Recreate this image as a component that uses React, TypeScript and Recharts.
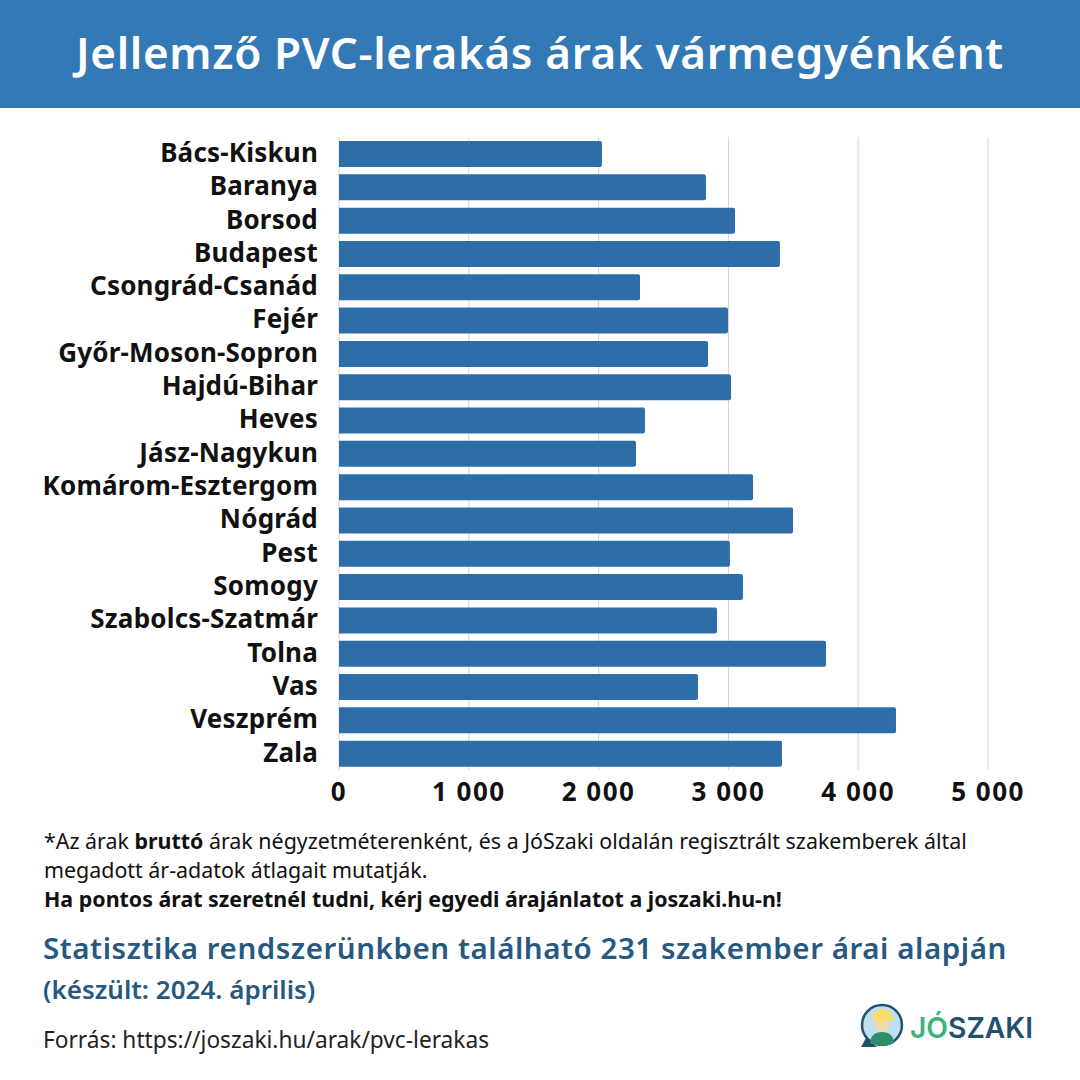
import React from "react";
import { BarChart, Bar, XAxis, YAxis, CartesianGrid } from "recharts";

const counties = [
  "Bács-Kiskun",
  "Baranya",
  "Borsod",
  "Budapest",
  "Csongrád-Csanád",
  "Fejér",
  "Győr-Moson-Sopron",
  "Hajdú-Bihar",
  "Heves",
  "Jász-Nagykun",
  "Komárom-Esztergom",
  "Nógrád",
  "Pest",
  "Somogy",
  "Szabolcs-Szatmár",
  "Tolna",
  "Vas",
  "Veszprém",
  "Zala",
];
const prices = [
  2026, 2827, 3051, 3397, 2319, 2997, 2843, 3020, 2357, 2288, 3190, 3498, 3012,
  3112, 2912, 3752, 2766, 4291, 3413,
];
const priceTicks = [0, 1000, 2000, 3000, 4000, 5000];

const chartData = counties.map((name, i) => ({ name, price: prices[i] }));

const font = '"Noto Sans", sans-serif';
const formatPrice = (v: number) => String(v).replace(/\B(?=(\d{3})+$)/g, " ");

function Logo() {
  return (
    <svg width={190} height={52} style={{ position: "absolute", left: 855, top: 1002 }}>
      <circle cx={27} cy={23} r={20} fill="#bfe0ee" stroke="#24506f" strokeWidth={2.5} />
      <path d="M6 45 L22 45 L11 36 Z" fill="#24506f" />
      <path d="M15 41 Q16 30 27 30 Q38 30 39 41 Q33 44 27 44 Q20 44 15 41 Z" fill="#2f8f6b" />
      <circle cx={27} cy={23} r={7} fill="#f3d9a4" />
      <path d="M17 19 Q18 7 28 7 Q38 8 38 19 Z" fill="#f5df6a" />
      <text x={55} y={36} fontFamily="Inter, sans-serif" fontWeight={600} fontSize={29} textLength={123} lengthAdjust="spacingAndGlyphs">
        <tspan fill="#3cb37a">JÓ</tspan>
        <tspan fill="#24506f">SZAKI</tspan>
      </text>
    </svg>
  );
}

export default function App() {
  return (
    <div style={{ position: "absolute", left: 0, top: 0, width: 1080, height: 1080, background: "#fff", fontFamily: font, overflow: "hidden" }}>
      <div style={{ height: 108, background: "#3279b6", color: "#fff", fontSize: 44, fontWeight: 600, lineHeight: "104px", textAlign: "center", whiteSpace: "nowrap", letterSpacing: 0.65 }}>
        Jellemző PVC-lerakás árak vármegyénként
      </div>
      <div style={{ position: "absolute", left: 0, top: 0 }}>
        <BarChart
          width={1080}
          height={822}
          layout="vertical"
          data={chartData}
          margin={{ top: 137, right: 92, bottom: 0, left: 0 }}
        >
          <CartesianGrid horizontal={false} stroke="#d4d4d4" strokeWidth={1} />
          <XAxis
            type="number"
            domain={[0, 5000]}
            ticks={priceTicks}
            tickFormatter={formatPrice}
            height={52}
            axisLine={false}
            tickLine={false}
            tickMargin={7}
            interval={0}
            tick={{ fill: "#111", fontSize: 26, fontWeight: 700, fontFamily: font, letterSpacing: 1.5 }}
          />
          <YAxis
            type="category"
            dataKey="name"
            width={339}
            axisLine={false}
            tickLine={false}
            tickMargin={15}
            interval={0}
            tick={{ fill: "#111", fontSize: 26, fontWeight: 700, fontFamily: font, letterSpacing: 0.2, dy: -1 }}
          />
          <Bar dataKey="price" fill="#2d6da8" barSize={26} radius={[0, 2, 2, 0]} isAnimationActive={false} />
        </BarChart>
      </div>
      <div style={{ position: "absolute", left: 44, top: 826, fontSize: 21.4, lineHeight: "29px", color: "#111", whiteSpace: "nowrap" }}>
        <div>*Az árak <b>bruttó</b> árak négyzetméterenként, és a JóSzaki oldalán regisztrált szakemberek által</div>
        <div>megadott ár-adatok átlagait mutatják.</div>
        <div><b>Ha pontos árat szeretnél tudni, kérj egyedi árajánlatot a joszaki.hu-n!</b></div>
      </div>
      <div style={{ position: "absolute", left: 43, top: 929, fontSize: 29.5, lineHeight: "38px", fontWeight: 600, letterSpacing: 0.55, color: "#27587f", whiteSpace: "nowrap" }}>
        Statisztika rendszerünkben található 231 szakember árai alapján
      </div>
      <div style={{ position: "absolute", left: 43, top: 972, fontSize: 26, lineHeight: "34px", fontWeight: 600, color: "#27587f", whiteSpace: "nowrap" }}>
        (készült: 2024. április)
      </div>
      <div style={{ position: "absolute", left: 43, top: 1024, fontSize: 22.7, lineHeight: "32px", color: "#222", whiteSpace: "nowrap" }}>
        Forrás: https://joszaki.hu/arak/pvc-lerakas
      </div>
      <Logo />
    </div>
  );
}
